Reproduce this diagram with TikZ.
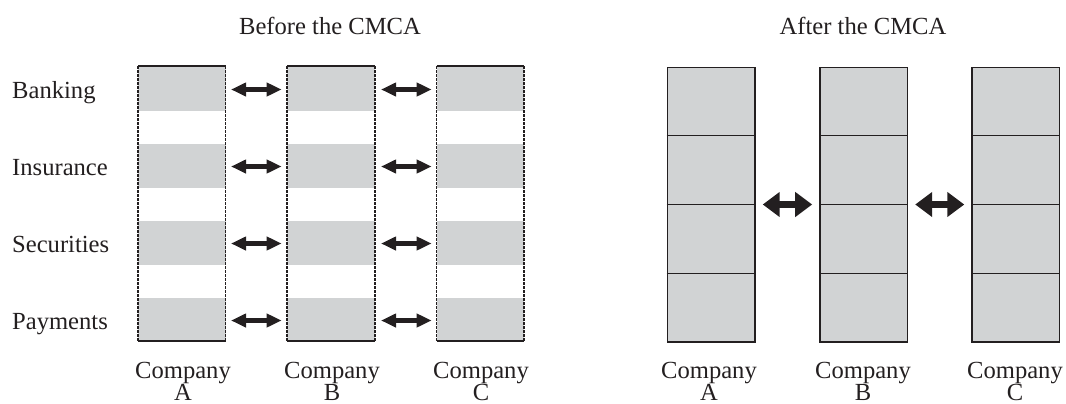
\documentclass[tikz,border=0pt]{standalone}
\usepackage{fontspec}
\setmainfont{Liberation Serif}
\usetikzlibrary{arrows.meta,calc}
\definecolor{bandgrey}{RGB}{209,211,212}
\definecolor{ink}{RGB}{35,31,32}
\begin{document}
\begin{tikzpicture}[x=1bp,y=-1bp,
  lbl/.style={font=\fontsize{24.6bp}{24bp}\selectfont, text=ink, inner sep=0pt},
  edge/.style={draw=ink, line width=1.5bp},
  dashedge/.style={draw=ink, line width=1.5bp, dash pattern=on 3bp off 1bp},
  smallarr/.style={draw=ink, line width=4.5bp, {Triangle[length=15bp,width=13bp]}-{Triangle[length=15bp,width=13bp]}},
  bigarr/.style={draw=ink, line width=7.5bp, {Triangle[length=17bp,width=24bp]}-{Triangle[length=17bp,width=24bp]}},
  cell/.style={draw=ink, line width=1.5bp, fill=bandgrey, minimum width=87.5bp, minimum height=274.5bp, inner sep=0pt}
]
\useasboundingbox (0,0) rectangle (1066,403);

% ---------- Titles ----------
\node[lbl, anchor=base] (t1) at (330,34) {Before the CMCA};
\node[lbl, anchor=base] (t2) at (863,34) {After the CMCA};

% ---------- Row labels ----------
\node[lbl, anchor=base west] (r1) at (12,98) {Banking};
\node[lbl, anchor=base west] (r2) at (12,175) {Insurance};
\node[lbl, anchor=base west] (r3) at (12,252) {Securities};
\node[lbl, anchor=base west] (r4) at (12,329) {Payments};

% ---------- Before: columns ----------
\foreach \xl/\xr/\n in {138/225.7/A, 287/375/B, 436.7/524/C}{
  \foreach \yt/\yb in {66/111, 144/188, 221/265, 298/341}{
    \fill[bandgrey] (\xl,\yt) rectangle (\xr,\yb);
  }
  \draw[edge] (\xl,66) -- (\xr,66);
  \draw[edge] (\xl,341) -- (\xr,341);
  \draw[dashedge] (\xl,66) -- (\xl,341);
  \draw[dashedge] (\xr,66) -- (\xr,341);
}
\foreach \y/\i in {89.5/1, 166.5/2, 243.5/3, 320.5/4}{
  \coordinate (a\i l) at (231,\y);
  \coordinate (a\i r) at (281.7,\y);
  \coordinate (b\i l) at (381,\y);
  \coordinate (b\i r) at (431.7,\y);
  \draw[smallarr] (a\i l) -- (a\i r);
  \draw[smallarr] (b\i l) -- (b\i r);
}

% Before: company labels
\node[lbl, anchor=base] (ca1) at (183,378.5) {Company};
\node[lbl, anchor=base] (la1) at (183,400) {A};
\node[lbl, anchor=base] (cb1) at (332,378.5) {Company};
\node[lbl, anchor=base] (lb1) at (332,400) {B};
\node[lbl, anchor=base] (cc1) at (481,378.5) {Company};
\node[lbl, anchor=base] (lc1) at (481,400) {C};

% ---------- After: columns ----------
\node[cell] (A2) at (711.2,204.5) {};
\node[cell] (B2) at (863.7,204.5) {};
\node[cell] (C2) at (1015.8,204.5) {};
\foreach \c in {A2,B2,C2}{
  \foreach \f in {0.25,0.5,0.75}{
    \draw[draw=ink, line width=1.1bp] ($(\c.north west)!\f!(\c.south west)$) -- ($(\c.north east)!\f!(\c.south east)$);
  }
}
\draw[bigarr, shorten <=7bp, shorten >=7bp] (A2.east) -- (B2.west);
\draw[bigarr, shorten <=7bp, shorten >=7bp] (B2.east) -- (C2.west);

% After: company labels
\node[lbl, anchor=base] (ca2) at (709,378.5) {Company};
\node[lbl, anchor=base] (la2) at (709,400) {A};
\node[lbl, anchor=base] (cb2) at (863,378.5) {Company};
\node[lbl, anchor=base] (lb2) at (863,400) {B};
\node[lbl, anchor=base] (cc2) at (1015,378.5) {Company};
\node[lbl, anchor=base] (lc2) at (1015,400) {C};
\end{tikzpicture}
\end{document}
